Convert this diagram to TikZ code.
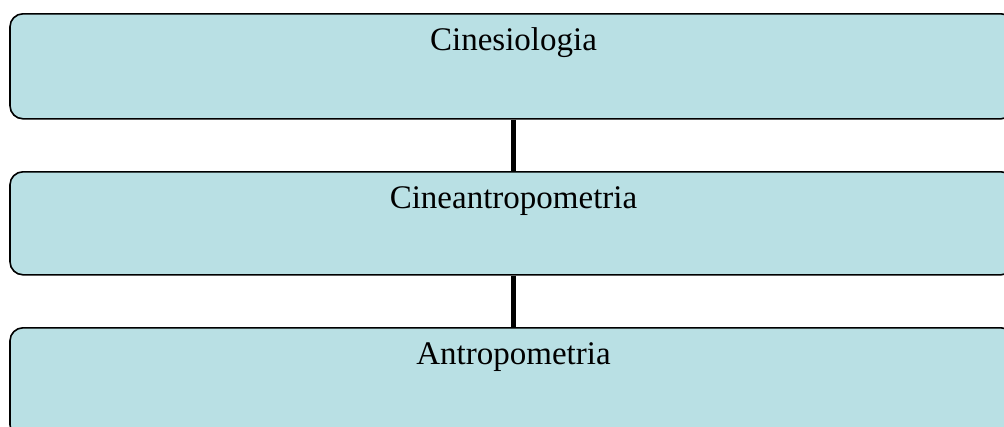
\documentclass[tikz,border=0pt]{standalone}
\usepackage{fontspec}
\setmainfont{Liberation Serif}
\definecolor{boxfill}{RGB}{185,224,228}
\begin{document}
\begin{tikzpicture}[x=1pt,y=-1pt,
  level/.style={draw=black, line width=1.6pt, fill=boxfill, rounded corners=13pt,
    minimum width=1004pt, inner sep=0pt, anchor=north},
  title/.style={anchor=base, font=\fontsize{33}{40}\selectfont, inner sep=0pt},
  link/.style={line width=5pt, black}]
\useasboundingbox (0,0) rectangle (1004,426);
\clip (0,0) rectangle (1004,426);
\node[level, minimum height=105pt] (b1) at (512,13) {};
\node[level, minimum height=103pt] (b2) at (512,171) {};
\node[level, minimum height=110pt] (b3) at (512,327) {};
\node[title] (t1) at ([xshift=1.5pt,yshift=-37pt]b1.north) {Cinesiologia};
\node[title] (t2) at ([xshift=1.5pt,yshift=-37pt]b2.north) {Cineantropometria};
\node[title] (t3) at ([xshift=1.5pt,yshift=-37pt]b3.north) {Antropometria};
\draw[link] ([xshift=1.5pt]b1.south) -- ([xshift=1.5pt]b2.north);
\draw[link] ([xshift=1.5pt]b2.south) -- ([xshift=1.5pt]b3.north);
\end{tikzpicture}
\end{document}
